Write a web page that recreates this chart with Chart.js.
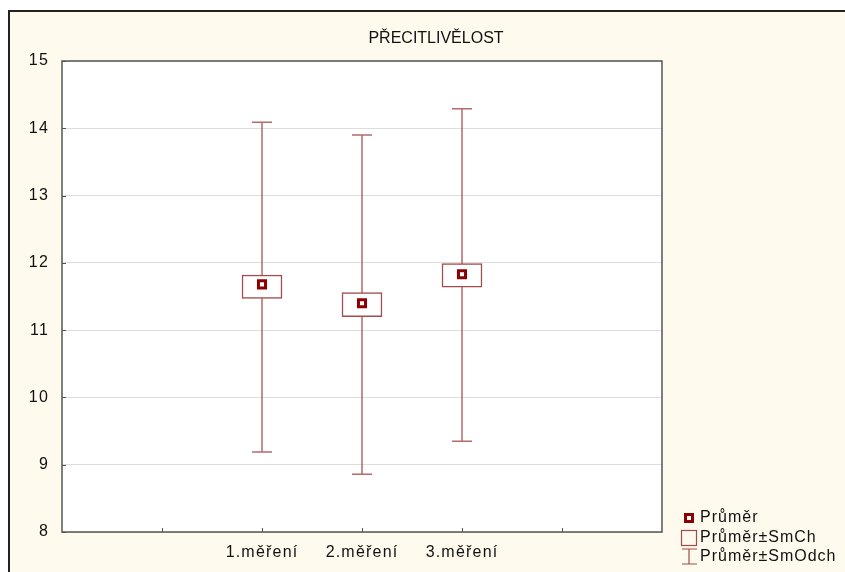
<!DOCTYPE html>
<html>
<head>
<meta charset="utf-8">
<script src="https://cdn.jsdelivr.net/npm/chart.js@4"></script>
<style>
  html, body { margin: 0; padding: 0; background: #fff; }
  #frame { position: absolute; left: 8px; top: 10px; width: 900px; height: 700px;
           border-left: 2px solid #222; border-top: 2px solid #222; background: #fffaee; }
  #wrap { position: absolute; left: 0; top: 0; width: 845px; height: 572px; }
</style>
</head>
<body>
<div id="frame"></div>
<div id="wrap"><canvas id="chart" width="845" height="572"></canvas></div>
<script>
const categories = ['1.měření', '2.měření', '3.měření'];
const positions = [2, 3, 4];
const means = [11.68, 11.40, 11.83];
const seLow = [11.47, 11.20, 11.64];
const seHigh = [11.82, 11.56, 11.99];
const sdLow = [9.19, 8.86, 9.35];
const sdHigh = [14.09, 13.90, 14.29];
const yTicks = [8, 9, 10, 11, 12, 13, 14, 15];

const dark = '#8b0000';
const boxColor = '#a34a4a';
const whiskerColor = '#b36b6b';
const font = 'Liberation Sans, Arial, sans-serif';

// white plot area, whiskers behind the boxes, frame + inward ticks, title and legend on top
const statPlugin = {
  id: 'stat',
  beforeDraw(chart) {
    const ctx = chart.ctx, a = chart.chartArea;
    ctx.letterSpacing = '1.2px';
    ctx.save();
    ctx.fillStyle = '#fff';
    ctx.fillRect(a.left, a.top, a.right - a.left, a.bottom - a.top);
    ctx.restore();
  },
  beforeDatasetsDraw(chart) {
    const ctx = chart.ctx, xs = chart.scales.x, ys = chart.scales.y;
    ctx.save();
    ctx.strokeStyle = whiskerColor;
    ctx.lineWidth = 1.5;
    positions.forEach(function (p, i) {
      const x = xs.getPixelForValue(p);
      const top = ys.getPixelForValue(sdHigh[i]);
      const bot = ys.getPixelForValue(sdLow[i]);
      ctx.beginPath();
      ctx.moveTo(x, top); ctx.lineTo(x, bot);
      ctx.moveTo(x - 10, top); ctx.lineTo(x + 10, top);
      ctx.moveTo(x - 10, bot); ctx.lineTo(x + 10, bot);
      ctx.stroke();
    });
    ctx.restore();
  },
  afterDraw(chart) {
    const ctx = chart.ctx, a = chart.chartArea, xs = chart.scales.x, ys = chart.scales.y;
    ctx.save();
    // plot frame
    ctx.strokeStyle = '#555';
    ctx.lineWidth = 1.5;
    ctx.strokeRect(a.left, a.top, a.right - a.left, a.bottom - a.top);
    // inward ticks
    ctx.lineWidth = 1;
    ctx.beginPath();
    for (let v = 1; v <= 5; v++) {
      const x = Math.round(xs.getPixelForValue(v)) + 0.5;
      ctx.moveTo(x, a.bottom); ctx.lineTo(x, a.bottom - 4);
    }
    yTicks.forEach(function (v) {
      const y = Math.round(ys.getPixelForValue(v)) + 0.5;
      ctx.moveTo(a.left, y); ctx.lineTo(a.left + 4, y);
    });
    ctx.stroke();
    // title
    ctx.letterSpacing = '0px';
    ctx.fillStyle = '#111';
    ctx.font = '16px ' + font;
    ctx.textAlign = 'center';
    ctx.textBaseline = 'middle';
    ctx.fillText('PŘECITLIVĚLOST', 436, 39);
    // legend
    ctx.letterSpacing = '1px';
    ctx.textAlign = 'left';
    ctx.fillStyle = dark;
    ctx.fillRect(684, 513, 10, 10);
    ctx.fillStyle = '#fff';
    ctx.fillRect(687, 516, 4, 4);
    ctx.strokeStyle = boxColor;
    ctx.lineWidth = 1.2;
    ctx.strokeRect(681.5, 530.5, 15, 15);
    ctx.beginPath();
    ctx.moveTo(689, 549); ctx.lineTo(689, 564);
    ctx.moveTo(682, 549); ctx.lineTo(697, 549);
    ctx.moveTo(682, 564); ctx.lineTo(697, 564);
    ctx.stroke();
    ctx.fillStyle = '#111';
    ctx.fillText('Průměr', 700, 518);
    ctx.fillText('Průměr±SmCh', 700, 538);
    ctx.fillText('Průměr±SmOdch', 700, 557);
    ctx.restore();
  }
};

new Chart(document.getElementById('chart').getContext('2d'), {
  data: {
    datasets: [
      {
        type: 'scatter',
        label: 'Průměr',
        data: positions.map(function (p, i) { return { x: p, y: means[i] }; }),
        pointStyle: 'rect',
        pointRadius: 5,
        pointHoverRadius: 5,
        borderWidth: 3,
        borderColor: dark,
        backgroundColor: '#fff'
      },
      {
        type: 'bar',
        label: 'Průměr±SmCh',
        data: positions.map(function (p, i) { return { x: p, y: [seLow[i], seHigh[i]] }; }),
        barThickness: 40,
        backgroundColor: '#fff',
        borderColor: boxColor,
        borderWidth: 1.5,
        borderSkipped: false
      }
    ]
  },
  options: {
    responsive: false,
    animation: false,
    layout: { padding: { left: 0, top: 61, right: 183, bottom: 0 } },
    plugins: { legend: { display: false }, tooltip: { enabled: false } },
    scales: {
      x: {
        type: 'linear', min: 0, max: 6, offset: false,
        afterFit: function (s) { s.height = 40; },
        afterBuildTicks: function (s) { s.ticks = positions.map(function (p) { return { value: p }; }); },
        ticks: {
          autoSkip: false, maxRotation: 0, padding: 11, color: '#111',
          font: { family: font, size: 16 },
          callback: function (v) { const i = positions.indexOf(v); return i >= 0 ? categories[i] : ''; }
        },
        grid: { display: false, drawTicks: false },
        border: { display: false }
      },
      y: {
        min: 8, max: 15,
        afterFit: function (s) { s.width = 62; },
        afterBuildTicks: function (s) { s.ticks = yTicks.map(function (v) { return { value: v }; }); },
        ticks: { padding: 13, color: '#111', font: { family: font, size: 16 } },
        grid: { color: '#dddddd', lineWidth: 1, drawTicks: false },
        border: { display: false }
      }
    }
  },
  plugins: [statPlugin]
});
</script>
</body>
</html>
